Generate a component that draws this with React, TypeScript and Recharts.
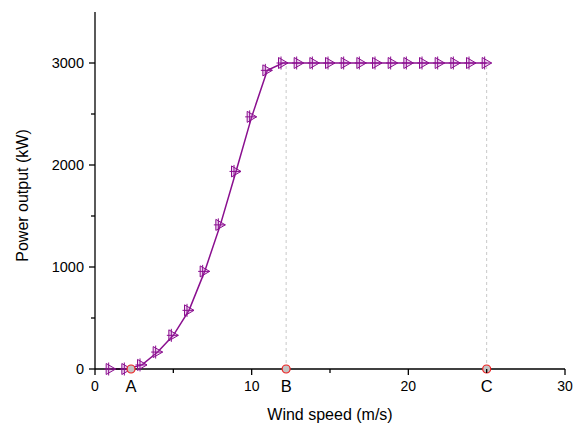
import { ComposedChart, Line, Scatter, XAxis, YAxis, ReferenceLine } from "recharts";

const windSpeed = [1, 2, 3, 4, 5, 6, 7, 8, 9, 10, 11, 12, 13, 14, 15, 16, 17, 18, 19, 20, 21, 22, 23, 24, 25];
const powerOutput = [0, 0, 40, 166, 330, 575, 957, 1413, 1937, 2472, 2928, 3000, 3000, 3000, 3000, 3000, 3000, 3000, 3000, 3000, 3000, 3000, 3000, 3000, 3000];

const pointLabels = ["A", "B", "C"];
const pointSpeeds = [2.3, 12.2, 25];
const guideSpeeds = [12.2, 25];

const xTicks = [0, 5, 10, 15, 20, 25, 30];
const yTicks = [0, 500, 1000, 1500, 2000, 2500, 3000];

const FONT = "Arial, 'Liberation Sans', sans-serif";
const PURPLE = "#8a0f8f";

const curve = windSpeed.map((x, i) => ({ x, y: powerOutput[i] }));
const points = pointSpeeds.map((x, i) => ({ x, y: 0, name: pointLabels[i] }));

function Marker(props: any) {
  const { cx, cy, index } = props;
  if (cx == null || cy == null) return <g key={index} />;
  return (
    <g key={index} stroke={PURPLE} strokeWidth={1} fill="rgba(190,90,200,0.25)">
      <path d={`M${cx - 4.5} ${cy - 5.5} L${cx + 5} ${cy} L${cx - 4.5} ${cy + 5.5} Z`} />
      <line x1={cx - 2} y1={cy - 6.5} x2={cx - 2} y2={cy + 6.5} />
      <line x1={cx - 6.5} y1={cy} x2={cx + 5} y2={cy} />
    </g>
  );
}

function PointShape(props: any) {
  const { cx, cy, payload } = props;
  return (
    <g>
      <circle cx={cx} cy={cy} r={4} fill="#c4c4c4" stroke="#ee2222" strokeWidth={1.2} />
      <text x={cx} y={cy + 23} textAnchor="middle" fontSize={16.5} fontFamily={FONT} fill="#000">
        {payload.name}
      </text>
    </g>
  );
}

function XTick(props: any) {
  const { x, y, payload } = props;
  const major = payload.value % 10 === 0;
  return (
    <g>
      <line x1={x} y1={y} x2={x} y2={y + (major ? 6 : 4)} stroke="#000" strokeWidth={1.3} />
      {major && (
        <text x={x} y={y + 22} textAnchor="middle" fontSize={14} fontFamily={FONT} fill="#000">
          {payload.value}
        </text>
      )}
    </g>
  );
}

function YTick(props: any) {
  const { x, y, payload } = props;
  const major = payload.value % 1000 === 0;
  return (
    <g>
      <line x1={x - (major ? 6 : 4)} y1={y} x2={x} y2={y} stroke="#000" strokeWidth={1.3} />
      {major && (
        <text x={x - 11} y={y + 5} textAnchor="end" fontSize={14.5} fontFamily={FONT} fill="#000">
          {payload.value}
        </text>
      )}
    </g>
  );
}

function YTitle(props: any) {
  const { viewBox } = props;
  const cx = 22;
  const cy = viewBox.y + viewBox.height / 2 + 5;
  return (
    <text
      x={cx}
      y={cy}
      transform={`rotate(-90 ${cx} ${cy})`}
      textAnchor="middle"
      dominantBaseline="central"
      fontSize={16}
      fontFamily={FONT}
      fill="#000"
    >
      Power output (kW)
    </text>
  );
}

function XTitle(props: any) {
  const { viewBox } = props;
  const cx = viewBox.x + viewBox.width / 2;
  return (
    <text x={cx} y={420} textAnchor="middle" fontSize={16} fontFamily={FONT} fill="#000">
      Wind speed (m/s)
    </text>
  );
}

export default function App() {
  return (
    <div style={{ position: "absolute", left: 0, top: 0, background: "#fff" }}>
      <ComposedChart width={579} height={426} margin={{ top: 12, right: 14, left: 0, bottom: 0 }}>
        <XAxis
          type="number"
          dataKey="x"
          domain={[0, 30]}
          ticks={xTicks}
          interval={0}
          height={57}
          tickLine={false}
          tickSize={0}
          tickMargin={0}
          tick={<XTick />}
          axisLine={{ stroke: "#000", strokeWidth: 1.3 }}
          label={{ content: XTitle }}
        />
        <YAxis
          type="number"
          domain={[0, 3500]}
          ticks={yTicks}
          interval={0}
          width={95}
          tickLine={false}
          tickSize={0}
          tickMargin={0}
          tick={<YTick />}
          axisLine={{ stroke: "#000", strokeWidth: 1.3 }}
          label={{ content: YTitle }}
        />
        {guideSpeeds.map((s) => (
          <ReferenceLine
            key={s}
            segment={[
              { x: s, y: 0 },
              { x: s, y: 3000 },
            ]}
            stroke="#c8c8c8"
            strokeDasharray="3 3"
          />
        ))}
        <Line
          data={curve}
          dataKey="y"
          type="linear"
          stroke={PURPLE}
          strokeWidth={1.5}
          dot={Marker}
          activeDot={false}
          isAnimationActive={false}
        />
        <Scatter data={points} dataKey="y" shape={PointShape} isAnimationActive={false} />
      </ComposedChart>
    </div>
  );
}
